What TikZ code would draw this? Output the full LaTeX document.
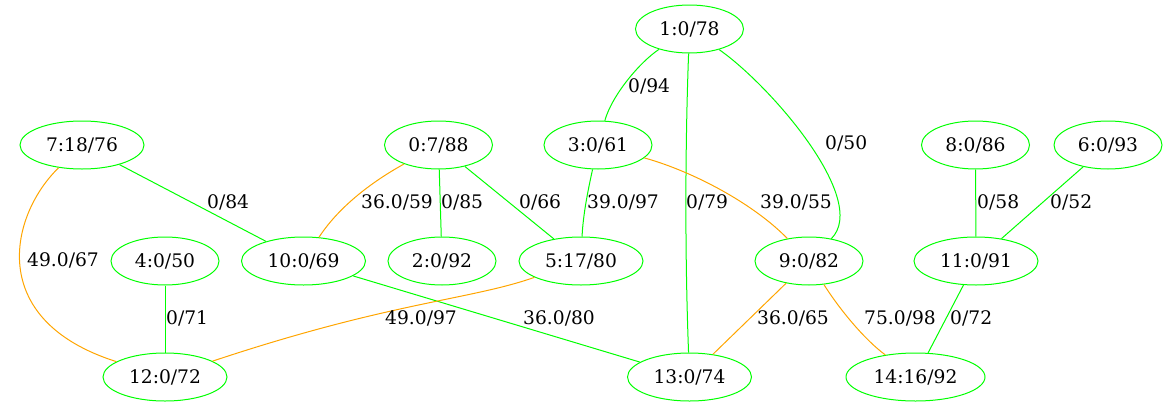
\documentclass[tikz,border=0pt]{standalone}
\usepackage{fontspec}
\setmainfont{DejaVu Serif}
\usetikzlibrary{shapes.geometric}
\definecolor{vgreen}{RGB}{0,255,0}
\definecolor{vorange}{RGB}{255,165,0}
\begin{document}
\begin{tikzpicture}[x=1pt,y=-1pt,
  txt/.style={font=\fontsize{18.67}{22}\selectfont},
  vtx/.style={txt, ellipse, draw=vgreen, line width=1pt, inner sep=0pt, minimum height=48pt},
  w6/.style={vtx, minimum width=108pt},
  w7/.style={vtx, minimum width=124pt},
  w8/.style={vtx, minimum width=139pt},
  gedge/.style={draw=vgreen, line width=1pt},
  oedge/.style={draw=vorange, line width=1pt},
  elab/.style={txt, anchor=west, inner sep=0pt}]
\useasboundingbox (0,0) rectangle (1167,407);

% vertices
\node[w6] (n1)  at (689.5,29)  {1:0/78};
\node[w7] (n7)  at (82,145)    {7:18/76};
\node[w6] (n0)  at (438.5,145) {0:7/88};
\node[w6] (n3)  at (598,145)   {3:0/61};
\node[w6] (n8)  at (975.5,145) {8:0/86};
\node[w6] (n6)  at (1108,145)  {6:0/93};
\node[w6] (n4)  at (165,261)   {4:0/50};
\node[w7] (n10) at (303.5,261) {10:0/69};
\node[w6] (n2)  at (442,261)   {2:0/92};
\node[w7] (n5)  at (581,261)   {5:17/80};
\node[w6] (n9)  at (809,261)   {9:0/82};
\node[w7] (n11) at (976,261)   {11:0/91};
\node[w7] (n12) at (165,377)   {12:0/72};
\node[w7] (n13) at (689.5,377) {13:0/74};
\node[w8] (n14) at (915.5,377) {14:16/92};

% edges
\draw[gedge] (n1) .. controls (640,62) and (612,95) .. (n3);
\draw[gedge] (n1) .. controls (685,150) and (685,260) .. (n13);
\draw[gedge] (n1) .. controls (770,85) and (870,200) .. (n9);
\draw[gedge] (n7) -- (n10);
\draw[oedge] (n7) .. controls (10,215) and (-15,320) .. (n12);
\draw[oedge] (n0) .. controls (375,180) and (340,205) .. (n10);
\draw[gedge] (n0) -- (n2);
\draw[gedge] (n0) -- (n5);
\draw[gedge] (n3) .. controls (588,190) and (583,215) .. (n5);
\draw[oedge] (n3) .. controls (695,172) and (755,205) .. (n9);
\draw[gedge] (n8) -- (n11);
\draw[gedge] (n6) -- (n11);
\draw[gedge] (n4) -- (n12);
\draw[gedge] (n10) -- (n13);
\draw[oedge] (n5) .. controls (470,300) and (390,302) .. (n12);
\draw[oedge] (n9) -- (n13);
\draw[oedge] (n9) .. controls (840,310) and (865,340) .. (n14);
\draw[gedge] (n11) -- (n14);

% edge labels
\node[elab] (l94) at (628,86)  {0/94};
\node[elab] (l79) at (686,202) {0/79};
\node[elab] (l50) at (825,143) {0/50};
\node[elab] (l84) at (207,202) {0/84};
\node[elab] (l67) at (27,260)  {49.0/67};
\node[elab] (l59) at (361,202) {36.0/59};
\node[elab] (l85) at (441,202) {0/85};
\node[elab] (l66) at (519,202) {0/66};
\node[elab] (l97a) at (587,202) {39.0/97};
\node[elab] (l55) at (760,202) {39.0/55};
\node[elab] (l58) at (977,202) {0/58};
\node[elab] (l52) at (1050,202) {0/52};
\node[elab] (l71) at (166,318) {0/71};
\node[elab] (l80) at (523,318) {36.0/80};
\node[elab] (l97b) at (385,318) {49.0/97};
\node[elab] (l65) at (757,318) {36.0/65};
\node[elab] (l98) at (864,318) {75.0/98};
\node[elab] (l72) at (950,318) {0/72};
\end{tikzpicture}
\end{document}
